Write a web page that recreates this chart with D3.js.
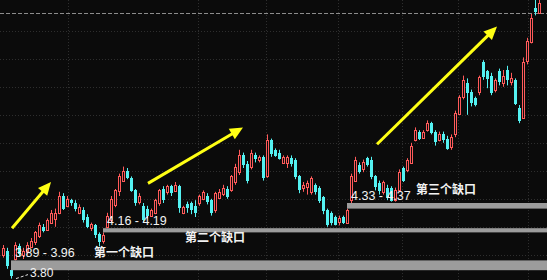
<!DOCTYPE html>
<html>
<head>
<meta charset="utf-8">
<script src="https://cdn.jsdelivr.net/npm/d3@7"></script>
<style>
  html, body { margin: 0; padding: 0; background: #0b0b0b; }
  svg { display: block; }
</style>
</head>
<body>
<script>
// ---------------- candle data (daily K-line) ----------------
let open = [
  4.00,4.03,3.89,3.97,4.06,4.00,4.02,4.06,4.09,4.13,
  4.20,4.18,4.23,4.26,4.30,4.42,4.35,4.39,4.37,4.30,
  4.32,4.27,4.19,4.21,4.15,4.10,4.20,4.25,4.35,4.45,
  4.53,4.60,4.55,4.46,4.38,4.35,4.33,4.28,4.30,4.37,
  4.47,4.45,4.49,4.46,4.49,4.30,4.36,4.37,4.35,4.37,
  4.40,4.42,4.39,4.32,4.41,4.44,4.47,4.46,4.52,4.59,
  4.71,4.65,4.63,4.71,4.68,4.70,4.56,4.82,4.75,4.73,
  4.66,4.66,4.69,4.68,4.56,4.48,4.48,4.45,4.50,4.48,
  4.41,4.32,4.30,4.27,4.23,4.27,4.23,4.39,4.53,4.64,
  4.61,4.69,4.68,4.56,4.51,4.45,4.48,4.48,4.39,4.46,
  4.62,4.61,4.66,4.82,4.88,4.84,4.89,4.94,4.88,4.82,
  4.86,4.83,4.77,4.86,5.01,5.13,5.23,5.16,5.12,5.16,
  5.38,5.31,5.28,5.18,5.31,5.23,5.32,5.23,5.25,5.05,
  4.98,5.39,5.52,5.76,5.73
];
let close = [
  4.05,3.92,3.85,4.07,4.00,4.03,4.07,4.10,4.16,4.21,
  4.17,4.25,4.30,4.30,4.42,4.33,4.40,4.37,4.33,4.34,
  4.25,4.20,4.22,4.14,4.09,4.14,4.28,4.40,4.46,4.56,
  4.60,4.55,4.46,4.37,4.42,4.25,4.28,4.32,4.39,4.46,
  4.39,4.49,4.44,4.50,4.33,4.34,4.33,4.32,4.30,4.42,
  4.45,4.38,4.30,4.44,4.45,4.48,4.41,4.56,4.63,4.71,
  4.64,4.53,4.73,4.68,4.70,4.55,4.82,4.72,4.71,4.69,
  4.70,4.70,4.65,4.56,4.46,4.50,4.51,4.55,4.45,4.39,
  4.31,4.21,4.23,4.21,4.26,4.23,4.32,4.56,4.68,4.59,
  4.66,4.64,4.56,4.48,4.45,4.52,4.41,4.39,4.46,4.59,
  4.53,4.68,4.78,4.89,4.83,4.88,4.94,4.87,4.81,4.86,
  4.82,4.76,4.84,5.01,5.13,5.25,5.16,5.08,5.07,5.27,
  5.27,5.25,5.16,5.25,5.23,5.28,5.25,5.26,5.08,4.96,
  5.38,5.53,5.69,5.73,5.80
];
let high = [
  4.07,4.05,3.89,4.09,4.08,4.05,4.09,4.12,4.17,4.23,
  4.22,4.26,4.32,4.33,4.45,4.44,4.42,4.40,4.39,4.36,
  4.34,4.29,4.23,4.22,4.16,4.16,4.30,4.42,4.47,4.58,
  4.63,4.62,4.56,4.47,4.44,4.37,4.35,4.33,4.40,4.47,
  4.49,4.50,4.50,4.52,4.50,4.35,4.38,4.38,4.39,4.43,
  4.46,4.44,4.40,4.45,4.47,4.50,4.49,4.57,4.65,4.75,
  4.73,4.67,4.75,4.73,4.71,4.71,4.86,4.83,4.76,4.75,
  4.71,4.71,4.71,4.69,4.57,4.52,4.53,4.56,4.51,4.49,
  4.42,4.33,4.31,4.28,4.28,4.28,4.33,4.58,4.70,4.66,
  4.68,4.70,4.70,4.57,4.53,4.53,4.50,4.49,4.48,4.61,
  4.63,4.69,4.80,4.91,4.89,4.89,4.96,4.95,4.89,4.88,
  4.88,4.85,4.86,5.03,5.14,5.28,5.26,5.18,5.13,5.28,
  5.39,5.32,5.30,5.26,5.33,5.32,5.35,5.30,5.26,5.07,
  5.41,5.55,5.72,5.82,5.82
];
let low = [
  3.98,3.90,3.83,3.96,3.99,3.97,4.00,4.05,4.07,4.12,
  4.16,4.17,4.22,4.20,4.29,4.32,4.34,4.35,4.31,4.29,
  4.23,4.19,4.17,4.12,4.06,4.08,4.19,4.23,4.34,4.42,
  4.52,4.54,4.45,4.35,4.36,4.23,4.26,4.27,4.29,4.35,
  4.37,4.43,4.42,4.45,4.30,4.29,4.30,4.29,4.27,4.35,
  4.39,4.36,4.28,4.30,4.40,4.42,4.40,4.45,4.50,4.57,
  4.62,4.51,4.61,4.66,4.66,4.53,4.55,4.70,4.70,4.68,
  4.65,4.62,4.63,4.54,4.44,4.45,4.43,4.43,4.43,4.37,
  4.29,4.20,4.21,4.21,4.21,4.22,4.22,4.37,4.52,4.58,
  4.59,4.63,4.54,4.46,4.43,4.43,4.39,4.38,4.38,4.45,
  4.52,4.59,4.65,4.81,4.82,4.83,4.88,4.86,4.78,4.81,
  4.80,4.75,4.75,4.84,5.00,5.11,5.00,5.06,5.06,5.14,
  5.25,5.19,5.14,5.16,5.21,5.20,5.21,5.21,5.07,4.94,
  4.97,5.36,5.51,5.71,5.72
];

// gaps: candle before the gap, lower / upper edge of the gap
let gapFrom = [2, 25, 86];
let gapLow  = [3.89, 4.16, 4.33];
let gapHigh = [3.96, 4.19, 4.37];

// notes under / next to the gaps
let noteText  = ["第一个缺口", "第二个缺口", "第三个缺口"];
let noteIdx   = [22.75, 45.5, 103.25];
let notePrice = [3.984, 4.091, 4.434];

// yellow trend arrows [index, price]
let arrowFrom = [[2.25, 4.19], [36.25, 4.51], [93.5, 4.79]];
let arrowTo   = [[12, 4.52], [60, 4.91], [123.5, 5.63]];

let lowLabel = "3.80";
let topPrice = 5.73;                    // dashed line near the top
let gridPrices = [4.0, 4.2, 4.4, 4.6, 4.8, 5.0, 5.2, 5.4, 5.6];
let gridIdx = [16.25, 48.75, 65.75, 83.75, 99.75, 113.75, 131.25];

// ---------------- drawing ----------------
let w = 547, h = 280;
let n = open.length;
let UP = "#ff5a5a", DOWN = "#54f2f2", BG = "#0b0b0b";

let x = d3.scaleLinear().domain([0, n - 1]).range([3, 539]);
let y = d3.scaleLinear().domain([3.82, 5.82]).range([280, 0]);

let svg = d3.select("body")
    .append("svg")
    .attr("width", w)
    .attr("height", h);

svg.append("rect").attr("width", w).attr("height", h).attr("fill", BG);

// faint dotted grid
svg.selectAll("line.hg")
    .data(gridPrices)
    .enter()
    .append("line")
        .attr("x1", 0).attr("x2", w)
        .attr("y1", d => Math.round(y(d)) + 0.5)
        .attr("y2", d => Math.round(y(d)) + 0.5)
        .attr("stroke", "#2e2e2e")
        .attr("stroke-dasharray", "1,2");

svg.selectAll("line.vg")
    .data(gridIdx)
    .enter()
    .append("line")
        .attr("x1", d => Math.round(x(d)) + 0.5)
        .attr("x2", d => Math.round(x(d)) + 0.5)
        .attr("y1", 0).attr("y2", h)
        .attr("stroke", "#2e2e2e")
        .attr("stroke-dasharray", "1,2");

// top dashed price line
svg.append("line")
    .attr("x1", 0).attr("x2", w)
    .attr("y1", Math.round(y(topPrice)) + 0.5)
    .attr("y2", Math.round(y(topPrice)) + 0.5)
    .attr("stroke", "#8c8c8c")
    .attr("stroke-dasharray", "4,2");

// candles
let idx = d3.range(n);
let cx = i => Math.round(x(i));
let isUp = i => close[i] >= open[i];

svg.selectAll("line.wick")
    .data(idx)
    .enter()
    .append("line")
        .attr("x1", i => cx(i) + 0.5)
        .attr("x2", i => cx(i) + 0.5)
        .attr("y1", i => y(high[i]))
        .attr("y2", i => y(low[i]))
        .attr("stroke", i => isUp(i) ? UP : DOWN)
        .attr("stroke-width", 1);

svg.selectAll("rect.body")
    .data(idx)
    .enter()
    .append("rect")
        .attr("x", i => isUp(i) ? cx(i) - 0.5 : cx(i) - 1)
        .attr("y", i => Math.round(y(Math.max(open[i], close[i]))) + (isUp(i) ? 0.5 : 0))
        .attr("width", i => isUp(i) ? 2 : 3)
        .attr("height", i => Math.max(1, Math.round(Math.abs(y(open[i]) - y(close[i])))))
        .attr("fill", i => isUp(i) ? BG : DOWN)
        .attr("stroke", i => isUp(i) ? UP : "none")
        .attr("stroke-width", 1);

// gray gap bands, running to the right edge
svg.selectAll("rect.gap")
    .data(gapFrom)
    .enter()
    .append("rect")
        .attr("x", d => x(d))
        .attr("y", (d, i) => y(gapHigh[i]))
        .attr("width", d => w - x(d))
        .attr("height", (d, i) => y(gapLow[i]) - y(gapHigh[i]))
        .attr("fill", "#9c9c9c");

// gap range labels
svg.selectAll("text.gap")
    .data(gapFrom)
    .enter()
    .append("text")
        .text((d, i) => `${gapLow[i].toFixed(2)} - ${gapHigh[i].toFixed(2)}`)
        .attr("x", d => x(d) + 4)
        .attr("y", (d, i) => y(gapHigh[i]) - 3)
        .attr("font-family", "Liberation Sans, Arial, sans-serif")
        .attr("font-size", "12.5px")
        .attr("fill", "#f2f2f2");

// gap notes
svg.selectAll("text.note")
    .data(noteText)
    .enter()
    .append("text")
        .text(d => d)
        .attr("x", (d, i) => x(noteIdx[i]))
        .attr("y", (d, i) => y(notePrice[i]))
        .attr("font-family", "Noto Sans CJK SC, sans-serif")
        .attr("font-weight", "bold")
        .attr("font-size", "12px")
        .attr("fill", "#f2f2f2");

// lowest price label with its leader
let lowX = x(2), lowY = y(low[2]);
svg.append("line")
    .attr("x1", lowX + 5).attr("y1", lowY)
    .attr("x2", lowX + 17).attr("y2", lowY - 4)
    .attr("stroke", "#e0e0e0")
    .attr("stroke-dasharray", "3,2");
svg.append("text")
    .text(lowLabel)
    .attr("x", lowX + 19)
    .attr("y", lowY - 2)
    .attr("font-family", "Liberation Sans, Arial, sans-serif")
    .attr("font-size", "12px")
    .attr("fill", "#f2f2f2");

// yellow arrows
let arrows = arrowFrom.map((a, i) => {
    let x1 = x(a[0]), y1 = y(a[1]), x2 = x(arrowTo[i][0]), y2 = y(arrowTo[i][1]);
    let len = Math.hypot(x2 - x1, y2 - y1), ux = (x2 - x1) / len, uy = (y2 - y1) / len;
    return {x1, y1, x2, y2, ux, uy};
});
let headL = 13, headW = 6;

svg.selectAll("line.arrow")
    .data(arrows)
    .enter()
    .append("line")
        .attr("x1", d => d.x1).attr("y1", d => d.y1)
        .attr("x2", d => d.x2 - d.ux * headL * 0.8)
        .attr("y2", d => d.y2 - d.uy * headL * 0.8)
        .attr("stroke", "#ffff14")
        .attr("stroke-width", 3);

svg.selectAll("path.arrow")
    .data(arrows)
    .enter()
    .append("path")
        .attr("d", d => {
            let bx = d.x2 - d.ux * headL, by = d.y2 - d.uy * headL;
            return `M${d.x2},${d.y2}L${bx - d.uy * headW},${by + d.ux * headW}` +
                   `L${bx + d.uy * headW},${by - d.ux * headW}Z`;
        })
        .attr("fill", "#ffff14");
</script>
</body>
</html>
